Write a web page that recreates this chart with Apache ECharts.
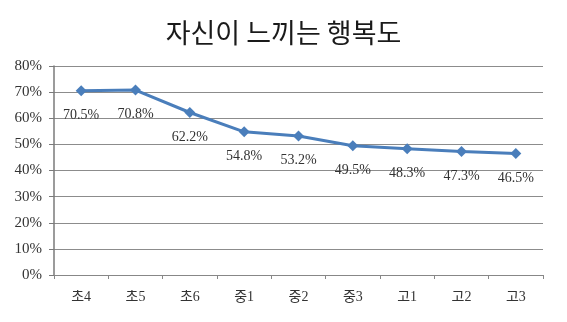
<!DOCTYPE html>
<html>
<head>
<meta charset="utf-8">
<script src="https://cdn.jsdelivr.net/npm/echarts@6/dist/echarts.min.js"></script>
<style>
  html, body { margin: 0; padding: 0; background: #fff; }
  #chart { width: 567px; height: 322px; }
</style>
</head>
<body>
<div id="chart"></div>
<script>
// School grades (elementary 4 → high school 3)
const categories = ['초4', '초5', '초6', '중1', '중2', '중3', '고1', '고2', '고3'];
// Share of students who feel happy, in percent
const happiness = [70.5, 70.8, 62.2, 54.8, 53.2, 49.5, 48.3, 47.3, 46.5];
// Value axis range
const yMin = 0;
const yMax = 80;
const yStep = 10;

const serif = '"Liberation Serif", "Times New Roman", "Noto Sans CJK KR", serif';

const chart = echarts.init(document.getElementById('chart'), null, { renderer: 'canvas' });
chart.setOption({
  backgroundColor: '#ffffff',
  animation: false,
  title: {
    text: '자신이 느끼는 행복도',
    left: 'center',
    top: 14,
    textStyle: {
      fontFamily: '"Noto Sans CJK KR", sans-serif',
      fontSize: 27,
      fontWeight: 'normal',
      color: '#1a1a1a'
    }
  },
  grid: { left: 54, right: 24, top: 66, bottom: 47, containLabel: false },
  xAxis: {
    type: 'category',
    data: categories,
    boundaryGap: true,
    axisLine: { lineStyle: { color: '#878787', width: 1 } },
    axisTick: { show: true, length: 4, inside: false, lineStyle: { color: '#878787' } },
    axisLabel: { margin: 15, fontFamily: serif, fontSize: 14, color: '#333' }
  },
  yAxis: {
    type: 'value',
    min: yMin,
    max: yMax,
    interval: yStep,
    axisLine: { show: true, lineStyle: { color: '#7a7a7a', width: 1.5 } },
    axisTick: { show: true, length: 5, lineStyle: { color: '#7a7a7a' } },
    axisLabel: {
      margin: 12,
      fontFamily: serif,
      fontSize: 15,
      color: '#333',
      formatter: v => v + '%'
    },
    splitLine: { show: true, lineStyle: { color: '#8c8c8c', width: 1 } }
  },
  series: [{
    type: 'line',
    data: happiness,
    symbol: 'diamond',
    symbolSize: 11,
    lineStyle: { color: '#4a7ebb', width: 3 },
    itemStyle: { color: '#4a7ebb' },
    label: {
      show: true,
      position: 'bottom',
      distance: 12,
      fontFamily: serif,
      fontSize: 14,
      color: '#333',
      formatter: p => p.value.toFixed(1) + '%'
    }
  }]
});
</script>
</body>
</html>
